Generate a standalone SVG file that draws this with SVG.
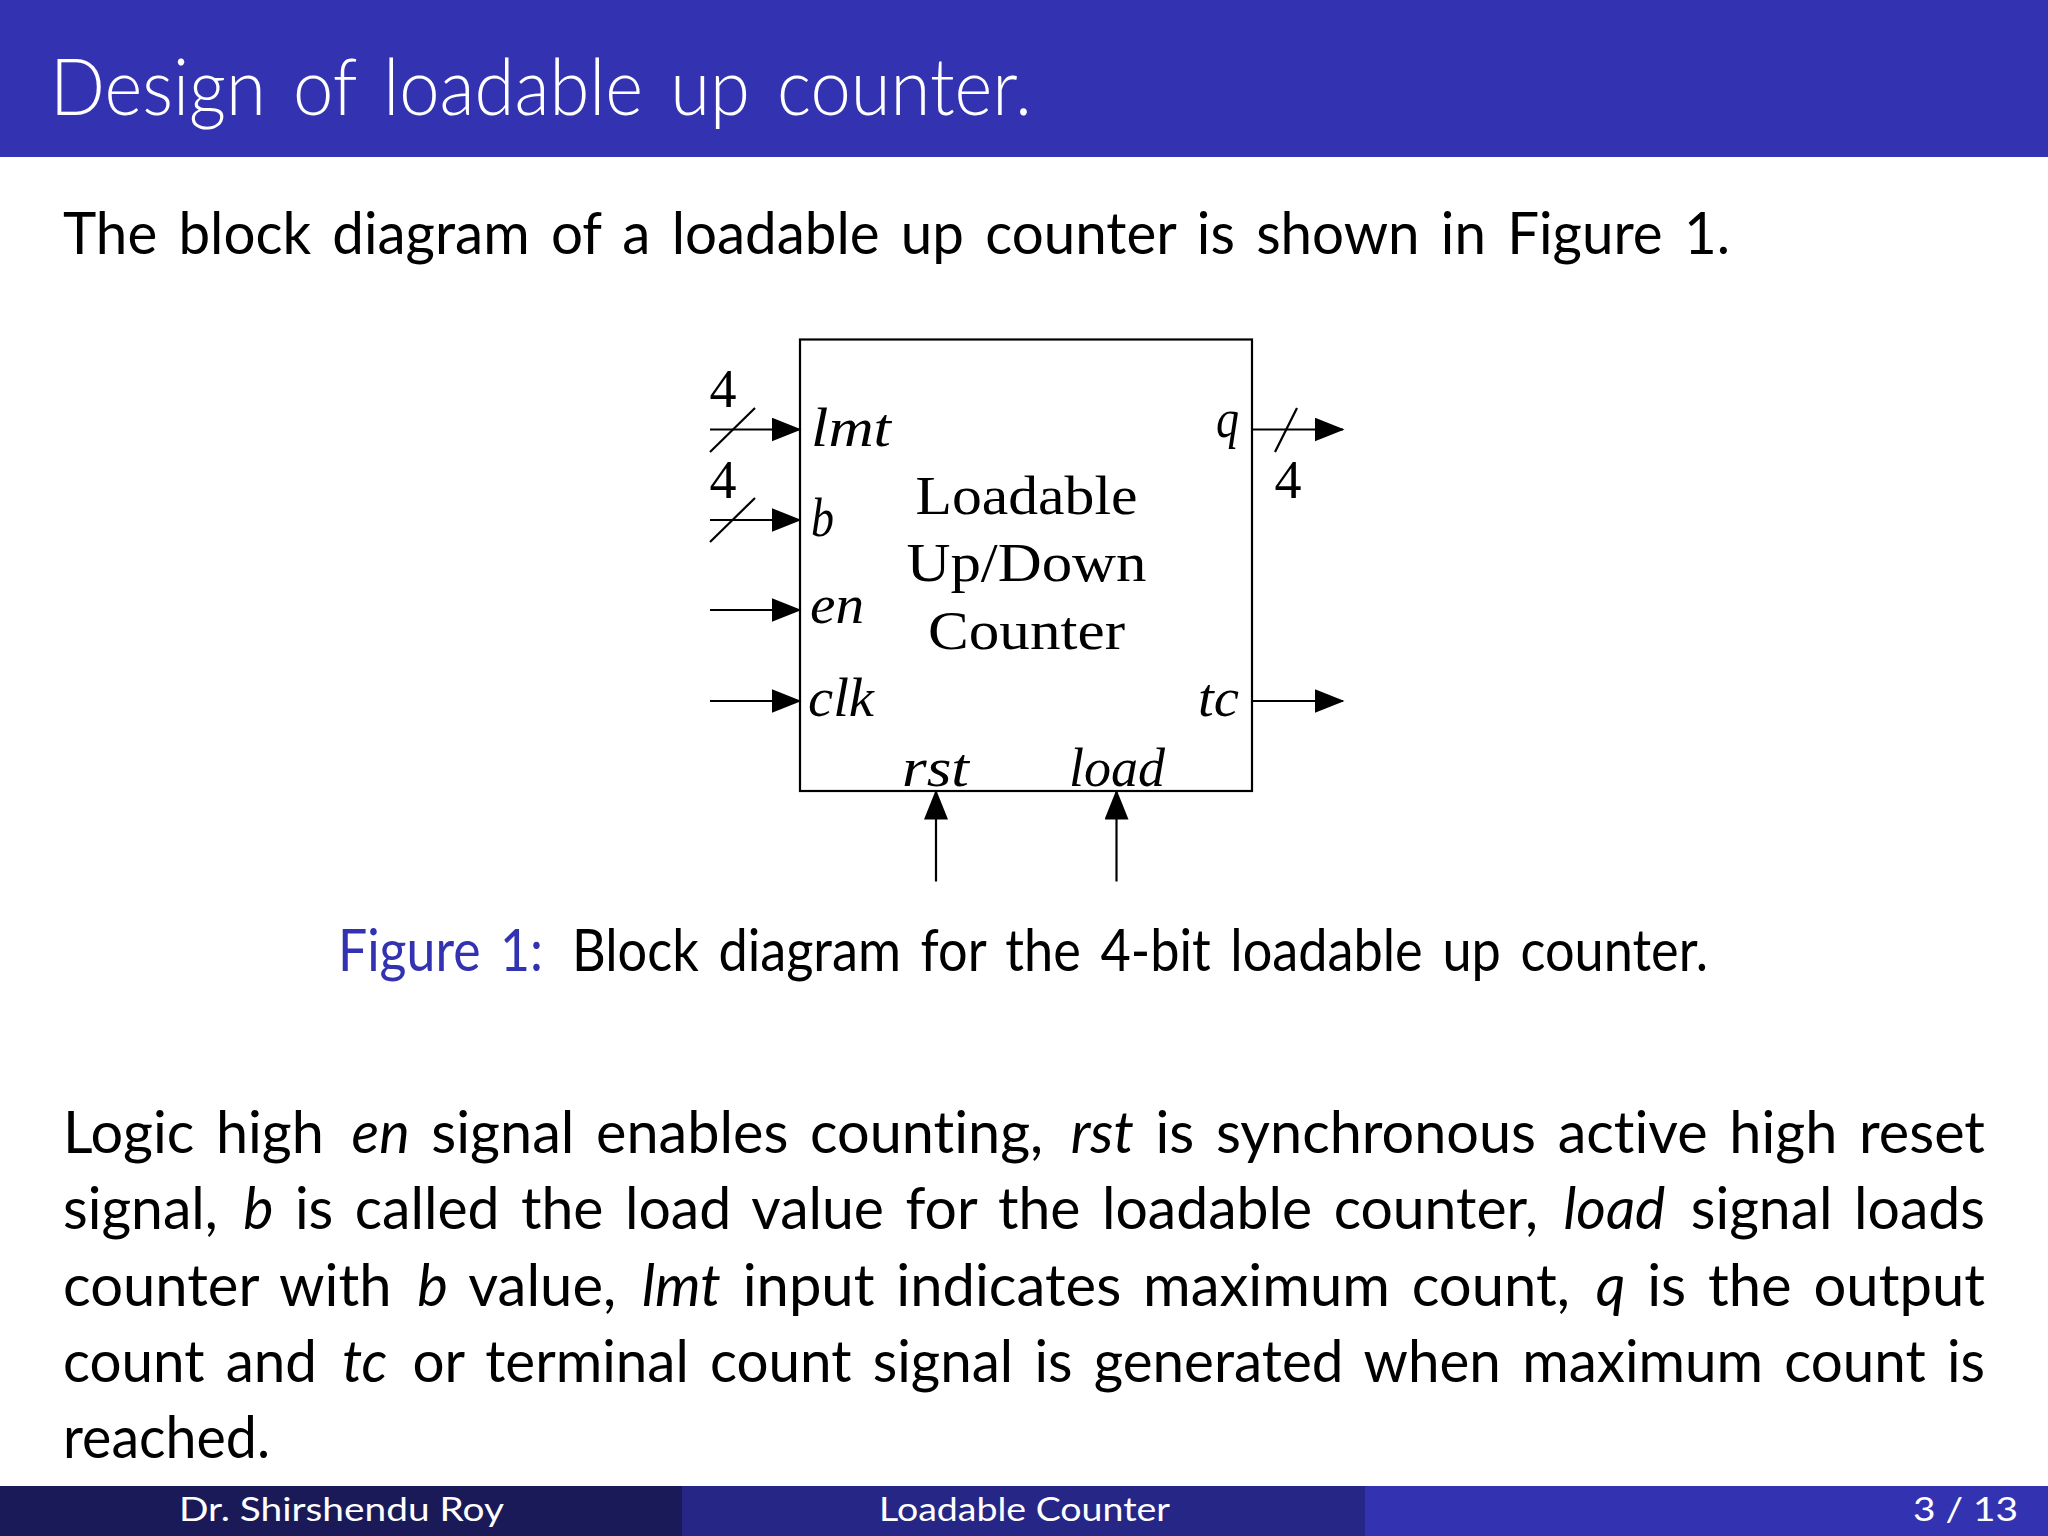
<svg xmlns="http://www.w3.org/2000/svg" width="2048" height="1536" viewBox="0 0 2048 1536">
<style>
.s{font-family:"Lato","Noto Sans",sans-serif;font-size:58px;fill:#000;font-variant-ligatures:none;word-spacing:7px}
.i{font-style:italic}
.f{font-family:"Lato","Noto Sans",sans-serif;font-size:32px;fill:#fff}
.m{font-family:"Liberation Serif",serif;font-style:italic;font-size:54px;fill:#000}
.r{font-family:"Liberation Serif",serif;font-size:55px;fill:#000;text-anchor:middle}
.n{font-family:"Liberation Serif",serif;font-size:54px;fill:#000;text-anchor:middle}
.w{stroke:#000;stroke-width:2.2;fill:none}
.a{marker-end:url(#ah)}
</style>
<defs><marker id="ah" markerUnits="userSpaceOnUse" markerWidth="30" markerHeight="24" refX="28.5" refY="12" orient="auto"><path d="M0 0L30 12L0 24Z" fill="#000"/></marker></defs>
<rect width="2048" height="1536" fill="#fff"/>
<rect id="header" width="2048" height="157" fill="#3333b2"/>
<text x="50" y="115" font-family="Lato,'Noto Sans',sans-serif" font-weight="300" font-size="78" fill="#fff" word-spacing="8" style="font-variant-ligatures:none" textLength="982" lengthAdjust="spacingAndGlyphs">Design of loadable up counter.</text>
<text class="s" x="63" y="254" textLength="1667" lengthAdjust="spacingAndGlyphs">The block diagram of a loadable up counter is shown in Figure 1.</text>
<g id="counter">
<rect x="800" y="339.5" width="452" height="451.5" class="w"/>
<text class="r" x="1026.5" y="514" textLength="222" lengthAdjust="spacingAndGlyphs">Loadable</text>
<text class="r" x="1026.5" y="581" textLength="240" lengthAdjust="spacingAndGlyphs">Up/Down</text>
<text class="r" x="1026.5" y="649" textLength="197" lengthAdjust="spacingAndGlyphs">Counter</text>
<text class="m" x="811" y="446" textLength="80" lengthAdjust="spacingAndGlyphs">lmt</text>
<text class="m" x="811" y="536" textLength="23" lengthAdjust="spacingAndGlyphs">b</text>
<text class="m" x="810" y="623" textLength="54" lengthAdjust="spacingAndGlyphs">en</text>
<text class="m" x="808" y="716" textLength="66" lengthAdjust="spacingAndGlyphs">clk</text>
<text class="m" x="1216" y="437" textLength="23" lengthAdjust="spacingAndGlyphs">q</text>
<text class="m" x="1198" y="716" textLength="41" lengthAdjust="spacingAndGlyphs">tc</text>
<text class="m" x="902" y="786" textLength="67" lengthAdjust="spacingAndGlyphs">rst</text>
<text class="m" x="1069" y="786" textLength="96" lengthAdjust="spacingAndGlyphs">load</text>
</g>
<g id="connectors">
<line class="w a" x1="710" y1="429.5" x2="800" y2="429.5"/>
<line class="w a" x1="710" y1="520" x2="800" y2="520"/>
<line class="w a" x1="710" y1="610" x2="800" y2="610"/>
<line class="w a" x1="710" y1="701" x2="800" y2="701"/>
<line class="w a" x1="1252" y1="429.5" x2="1343" y2="429.5"/>
<line class="w a" x1="1252" y1="701" x2="1343" y2="701"/>
<line class="w a" x1="936" y1="881.5" x2="936" y2="791"/>
<line class="w a" x1="1116.5" y1="881.5" x2="1116.5" y2="791"/>
<line class="w" x1="710" y1="452" x2="755" y2="408"/>
<line class="w" x1="710" y1="542" x2="755" y2="498"/>
<line class="w" x1="1275" y1="452" x2="1297" y2="408"/>
<text class="n" x="723" y="407">4</text>
<text class="n" x="723" y="498">4</text>
<text class="n" x="1288" y="498">4</text>
</g>
<text class="s" x="338" y="971" style="fill:#3333b2" textLength="205" lengthAdjust="spacingAndGlyphs">Figure 1:</text>
<text class="s" x="572" y="971" textLength="1136" lengthAdjust="spacingAndGlyphs">Block diagram for the 4-bit loadable up counter.</text>
<text class="s" x="63" y="1153" textLength="1922" lengthAdjust="spacingAndGlyphs">Logic high <tspan class="i" dx="6">en</tspan> signal enables counting, <tspan class="i" dx="6">rst</tspan> is synchronous active high reset</text>
<text class="s" x="63" y="1229" textLength="1922" lengthAdjust="spacingAndGlyphs">signal, <tspan class="i" dx="4">b</tspan> is called the load value for the loadable counter, <tspan class="i" dx="4">load</tspan> <tspan dx="4">signal</tspan> loads</text>
<text class="s" x="63" y="1306" textLength="1922" lengthAdjust="spacingAndGlyphs">counter with <tspan class="i" dx="4">b</tspan> value, <tspan class="i" dx="4">lmt</tspan> input indicates maximum count, <tspan class="i" dx="4">q</tspan> is the output</text>
<text class="s" x="63" y="1382" textLength="1922" lengthAdjust="spacingAndGlyphs">count and <tspan class="i" dx="4">tc</tspan> <tspan dx="4">or</tspan> terminal count signal is generated when maximum count is</text>
<text class="s" x="63" y="1458" textLength="207" lengthAdjust="spacingAndGlyphs">reached.</text>
<g id="footer">
<rect y="1486" width="682" height="50" fill="#1a1a59"/>
<rect x="682" y="1486" width="683" height="50" fill="#262686"/>
<rect x="1365" y="1486" width="683" height="50" fill="#3333b2"/>
<text class="f" x="179" y="1521" textLength="325" lengthAdjust="spacingAndGlyphs">Dr. Shirshendu Roy</text>
<text class="f" x="879" y="1521" textLength="291" lengthAdjust="spacingAndGlyphs">Loadable Counter</text>
<text class="f" x="1913" y="1521" textLength="105" lengthAdjust="spacingAndGlyphs">3 / 13</text>
</g>
</svg>
